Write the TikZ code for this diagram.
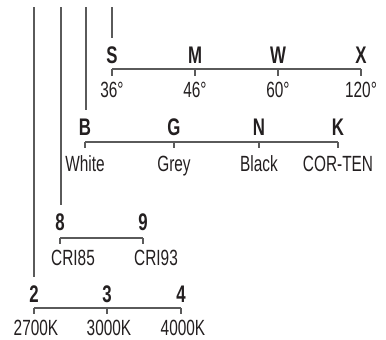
\documentclass[tikz,border=0pt]{standalone}
\usepackage{fontspec}
\setmainfont{Liberation Sans}[FakeStretch=0.7]
\usepackage{tikz}
\usetikzlibrary{positioning}
\usepackage{xcolor}
\definecolor{ink}{HTML}{231F20}
\definecolor{rule}{HTML}{5A5A5A}
\tikzset{
	code/.style={font=\bfseries\fontsize{24}{24}\selectfont, text=ink, inner sep=0pt, anchor=base},
	value/.style={font=\fontsize{22}{22}\selectfont, text=ink, inner sep=0pt, anchor=base},
	lead/.style={draw=rule, line width=1.1pt, shorten >=8pt},
	bracket/.style={draw=rule, line width=1.1pt}
}

\begin{document}
\begin{tikzpicture}[x=1pt, y=-1pt]
	\useasboundingbox (0, 0) rectangle (386, 340);
	
	% angle row
	\foreach \px/\name/\txt in {112/S/36°, 195/M/46°, 278/W/60°, 361/X/120°} {
		\node[code] (code-\name) at (\px, 63) {\name};
		\coordinate (tick-\name) at (\px, 69);
		\node[value] (val-\name) at (\px, 97) {\txt};
		\draw[bracket] (tick-\name) -- ++(0, 7);
	}
	\draw[bracket] (tick-S) -- (tick-X);
	
	% finish row
	\foreach \px/\name/\txt in {85/B/White, 174/G/Grey, 259/N/Black, 338/K/COR-TEN} {
		\node[code] (code-\name) at (\px, 135) {\name};
		\coordinate (tick-\name) at (\px, 142);
		\node[value] (val-\name) at (\px, 171) {\txt};
		\draw[bracket] (tick-\name) -- ++(0, 6);
	}
	\draw[bracket] (tick-B) -- (tick-K);
	
	% CRI row
	\foreach \px/\name/\txt in {60/8/CRI85, 143/9/CRI93} {
		\node[code] (code-\name) at (\px, 230) {\name};
		\coordinate (tick-\name) at (\px, 238);
		\node[value] (val-\name) at (\px + 13, 265) {\txt};
		\draw[bracket] (tick-\name) -- ++(0, 6);
	}
	\draw[bracket] (tick-8) -- (tick-9);
	
	% colour temperature row
	\foreach \px/\name/\txt in {34/2/2700K, 107/3/3000K, 181/4/4000K} {
		\node[code] (code-\name) at (\px, 302) {\name};
		\coordinate (tick-\name) at (\px, 308);
		\node[value] (val-\name) at (\px + 2, 335) {\txt};
		\draw[bracket] (tick-\name) -- ++(0, 6);
	}
	\draw[bracket] (tick-2) -- (tick-4);
	
	% leads from the top
	\coordinate (top-2) at (34, 7);
	\coordinate (top-8) at (61, 7);
	\coordinate (top-B) at (86, 7);
	\coordinate (top-S) at (112, 7);
	\draw[lead] (top-2) -- (top-2 |- code-2.north);
	\draw[lead] (top-8) -- (top-8 |- code-8.north);
	\draw[lead] (top-B) -- (top-B |- code-B.north);
	\draw[lead] (top-S) -- (top-S |- code-S.north);
\end{tikzpicture}
\end{document}
